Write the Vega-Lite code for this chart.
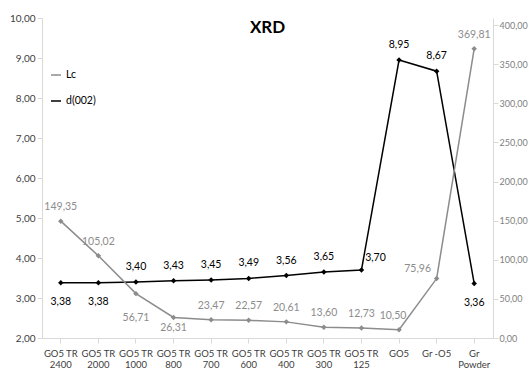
{
  "$schema": "https://vega.github.io/schema/vega-lite/v6.json",
  "width": 451,
  "height": 320,
  "autosize": {"type": "none"},
  "padding": {"left": 42, "top": 18, "right": 36, "bottom": 31},
  "background": "white",
  "title": {"text": "XRD", "fontSize": 17, "fontWeight": "bold", "font": "Lato", "anchor": "middle", "baseline": "alphabetic", "offset": 0, "dy": 37, "color": "#000000"},
  "config": {
    "view": {"stroke": null},
    "font": "Lato",
    "locale": {"number": {"decimal": ",", "thousands": ".", "grouping": [3], "currency": ["", ""]}},
    "axis": {"labelFont": "Lato", "labelFontSize": 10.5, "grid": false, "domainColor": "#d9d9d9", "tickColor": "#d9d9d9", "tickSize": 5, "title": null}
  },
  "data": {"values": [
    {"category": "GO5 TR 2400", "series": "d(002)", "value": 3.38},
    {"category": "GO5 TR 2000", "series": "d(002)", "value": 3.38},
    {"category": "GO5 TR 1000", "series": "d(002)", "value": 3.40},
    {"category": "GO5 TR 800", "series": "d(002)", "value": 3.43},
    {"category": "GO5 TR 700", "series": "d(002)", "value": 3.45},
    {"category": "GO5 TR 600", "series": "d(002)", "value": 3.49},
    {"category": "GO5 TR 400", "series": "d(002)", "value": 3.56},
    {"category": "GO5 TR 300", "series": "d(002)", "value": 3.65},
    {"category": "GO5 TR 125", "series": "d(002)", "value": 3.70},
    {"category": "GO5", "series": "d(002)", "value": 8.95},
    {"category": "Gr -O5", "series": "d(002)", "value": 8.67},
    {"category": "Gr Powder", "series": "d(002)", "value": 3.36},
    {"category": "GO5 TR 2400", "series": "Lc", "value": 149.35},
    {"category": "GO5 TR 2000", "series": "Lc", "value": 105.02},
    {"category": "GO5 TR 1000", "series": "Lc", "value": 56.71},
    {"category": "GO5 TR 800", "series": "Lc", "value": 26.31},
    {"category": "GO5 TR 700", "series": "Lc", "value": 23.47},
    {"category": "GO5 TR 600", "series": "Lc", "value": 22.57},
    {"category": "GO5 TR 400", "series": "Lc", "value": 20.61},
    {"category": "GO5 TR 300", "series": "Lc", "value": 13.60},
    {"category": "GO5 TR 125", "series": "Lc", "value": 12.73},
    {"category": "GO5", "series": "Lc", "value": 10.50},
    {"category": "Gr -O5", "series": "Lc", "value": 75.96},
    {"category": "Gr Powder", "series": "Lc", "value": 369.81}
  ]},
  "encoding": {
    "x": {
      "field": "category", "type": "nominal",
      "sort": ["GO5 TR 2400", "GO5 TR 2000", "GO5 TR 1000", "GO5 TR 800", "GO5 TR 700", "GO5 TR 600", "GO5 TR 400", "GO5 TR 300", "GO5 TR 125", "GO5", "Gr -O5", "Gr Powder"],
      "scale": {"type": "band", "paddingInner": 0, "paddingOuter": 0},
      "axis": {"labelAngle": 0, "labelColor": "#404040", "labelPadding": 5, "labelFontSize": 9.5,
        "labelExpr": "datum.value == 'Gr Powder' ? ['Gr', 'Powder'] : (indexof(datum.value, 'GO5 TR ') == 0 ? ['GO5 TR', substring(datum.value, 7)] : datum.value)"}
    }
  },
  "layer": [
    {
      "transform": [{"filter": "datum.series == 'd(002)'"}],
      "encoding": {
        "y": {"field": "value", "type": "quantitative", "scale": {"domain": [2, 10], "nice": false, "zero": false},
          "axis": {"orient": "left", "values": [2, 3, 4, 5, 6, 7, 8, 9, 10], "format": ".2f", "labelColor": "#404040", "labelFontSize": 10}}
      },
      "layer": [
        {
          "mark": {"type": "line", "strokeWidth": 1.5, "point": {"shape": "diamond", "filled": true, "size": 30}},
          "encoding": {"color": {"field": "series", "type": "nominal", "scale": {"domain": ["Lc", "d(002)"], "range": ["#8c8c8c", "#000000"]},
            "legend": {"orient": "none", "legendX": 8, "legendY": 51, "title": null, "rowPadding": 14, "labelFontSize": 10.5}}}
        },
        {
          "transform": [{"filter": {"field": "category", "oneOf": ["GO5 TR 1000", "GO5 TR 800", "GO5 TR 700", "GO5 TR 600", "GO5 TR 400", "GO5 TR 300", "GO5", "Gr -O5"]}}],
          "mark": {"type": "text", "dy": -15, "fontSize": 10.5, "color": "#000000"},
          "encoding": {"text": {"field": "value", "type": "quantitative", "format": ".2f"}}
        },
        {
          "transform": [{"filter": {"field": "category", "oneOf": ["GO5 TR 2400", "GO5 TR 2000", "Gr Powder"]}}],
          "mark": {"type": "text", "dy": 19, "fontSize": 10.5, "color": "#000000"},
          "encoding": {"text": {"field": "value", "type": "quantitative", "format": ".2f"}}
        },
        {
          "transform": [{"filter": {"field": "category", "oneOf": ["GO5 TR 125"]}}],
          "mark": {"type": "text", "dy": -12, "dx": 14, "fontSize": 10.5, "color": "#000000"},
          "encoding": {"text": {"field": "value", "type": "quantitative", "format": ".2f"}}
        }
      ]
    },
    {
      "transform": [{"filter": "datum.series == 'Lc'"}],
      "encoding": {
        "y": {"field": "value", "type": "quantitative", "scale": {"domain": [0, 409], "nice": false, "zero": false},
          "axis": {"orient": "right", "values": [0, 50, 100, 150, 200, 250, 300, 350, 400], "format": ".2f", "labelColor": "#808080", "labelPadding": 1, "labelFontSize": 9}}
      },
      "layer": [
        {
          "mark": {"type": "line", "strokeWidth": 1.5, "point": {"shape": "diamond", "filled": true, "size": 30}},
          "encoding": {"color": {"field": "series", "type": "nominal"}}
        },
        {
          "transform": [{"filter": {"field": "category", "oneOf": ["GO5 TR 2400", "GO5 TR 2000", "GO5 TR 700", "GO5 TR 600", "GO5 TR 400", "GO5 TR 300", "GO5 TR 125", "Gr Powder"]}}],
          "mark": {"type": "text", "dy": -14, "fontSize": 10.5, "color": "#8c8c8c"},
          "encoding": {"text": {"field": "value", "type": "quantitative", "format": ".2f"}}
        },
        {
          "transform": [{"filter": {"field": "category", "oneOf": ["GO5 TR 1000"]}}],
          "mark": {"type": "text", "dy": 24, "fontSize": 10.5, "color": "#8c8c8c"},
          "encoding": {"text": {"field": "value", "type": "quantitative", "format": ".2f"}}
        },
        {
          "transform": [{"filter": {"field": "category", "oneOf": ["GO5 TR 800"]}}],
          "mark": {"type": "text", "dy": 11, "fontSize": 10.5, "color": "#8c8c8c"},
          "encoding": {"text": {"field": "value", "type": "quantitative", "format": ".2f"}}
        },
        {
          "transform": [{"filter": {"field": "category", "oneOf": ["GO5"]}}],
          "mark": {"type": "text", "dy": -14, "dx": -6, "fontSize": 10.5, "color": "#8c8c8c"},
          "encoding": {"text": {"field": "value", "type": "quantitative", "format": ".2f"}}
        },
        {
          "transform": [{"filter": {"field": "category", "oneOf": ["Gr -O5"]}}],
          "mark": {"type": "text", "dy": -10, "dx": -19, "fontSize": 10.5, "color": "#8c8c8c"},
          "encoding": {"text": {"field": "value", "type": "quantitative", "format": ".2f"}}
        }
      ]
    }
  ],
  "resolve": {"scale": {"y": "independent"}}
}
